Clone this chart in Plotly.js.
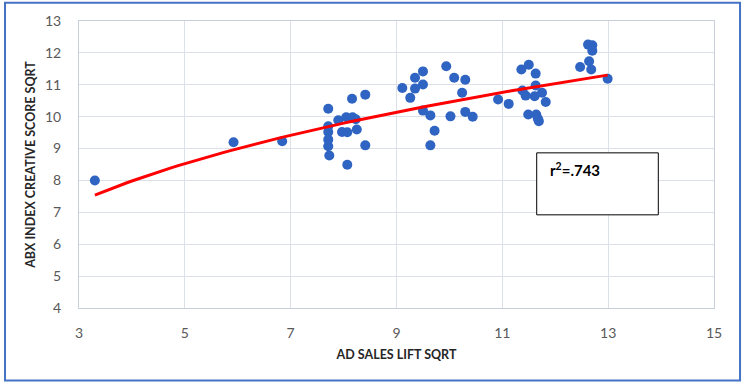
<!DOCTYPE html>
<html>
<head>
<meta charset="utf-8">
<script src="https://cdn.plot.ly/plotly-3.0.1.min.js"></script>
<style>
  html, body { margin: 0; padding: 0; background: #ffffff; }
  #chart { width: 745px; height: 386px; }
</style>
</head>
<body>
<div id="chart"></div>
<script>
// Data
const adSalesLiftSqrt = [
  3.30, 5.92, 6.84,
  7.71, 8.16, 8.41, 7.90, 8.05, 8.17, 8.23, 7.71, 7.71, 7.97, 8.07, 8.25, 7.71, 7.71, 8.41, 7.73, 8.07,
  9.11, 9.26, 9.35, 9.50, 9.35, 9.50, 9.50, 9.64, 9.72, 9.64,
  9.94, 10.09, 10.30, 10.24, 10.02, 10.30, 10.44,
  10.92, 11.12, 11.36, 11.50, 11.63, 11.63, 11.38, 11.44, 11.61, 11.75, 11.82, 11.49, 11.64, 11.69, 11.67,
  12.62, 12.70, 12.70, 12.47, 12.64, 12.68, 12.99
];
const abxCreativeScoreSqrt = [
  8.00, 9.20, 9.23,
  10.25, 10.56, 10.69, 9.89, 9.98, 9.98, 9.92, 9.70, 9.52, 9.52, 9.51, 9.60, 9.28, 9.07, 9.10, 8.78, 8.49,
  10.90, 10.59, 11.22, 11.42, 10.88, 11.01, 10.19, 10.04, 9.56, 9.10,
  11.58, 11.22, 11.16, 10.75, 10.01, 10.15, 10.00,
  10.54, 10.40, 11.48, 11.63, 11.35, 10.98, 10.82, 10.66, 10.64, 10.75, 10.46, 10.07, 10.07, 9.86, 9.94,
  12.26, 12.24, 12.07, 11.56, 11.74, 11.48, 11.19
];
const xTickVals = [3, 5, 7, 9, 11, 13, 15];
const yTickVals = [4, 5, 6, 7, 8, 9, 10, 11, 12, 13];
const xTitle = "AD SALES LIFT SQRT";
const yTitle = "ABX INDEX CREATIVE SCORE SQRT";
const rSquaredLabel = "r<sup>2</sup>=.743";

// Power trendline (least squares on ln y vs ln x), like a spreadsheet power trendline
function powerFit(xs, ys) {
  const n = xs.length;
  let sx = 0, sy = 0, sxx = 0, sxy = 0;
  for (let i = 0; i < n; i++) {
    const lx = Math.log(xs[i]), ly = Math.log(ys[i]);
    sx += lx; sy += ly; sxx += lx * lx; sxy += lx * ly;
  }
  const b = (n * sxy - sx * sy) / (n * sxx - sx * sx);
  const a = (sy - b * sx) / n;
  return { c: Math.exp(a), p: b };
}
const fit = powerFit(adSalesLiftSqrt, abxCreativeScoreSqrt);
const xMin = Math.min(...adSalesLiftSqrt), xMax = Math.max(...adSalesLiftSqrt);
const trendX = [], trendY = [];
for (let i = 0; i <= 80; i++) {
  const xv = xMin + (xMax - xMin) * i / 80;
  trendX.push(xv);
  trendY.push(fit.c * Math.pow(xv, fit.p));
}

const font = "Lato, 'Liberation Sans', sans-serif";

const traces = [
  {
    x: adSalesLiftSqrt, y: abxCreativeScoreSqrt,
    type: 'scatter', mode: 'markers',
    marker: { color: '#2F64C3', size: 10, line: { width: 0 } },
    hoverinfo: 'x+y', showlegend: false
  },
  {
    x: trendX, y: trendY,
    type: 'scatter', mode: 'lines',
    line: { color: '#FF0000', width: 3 },
    hoverinfo: 'skip', showlegend: false
  }
];

const layout = {
  width: 745, height: 386,
  margin: { l: 79, r: 31, t: 21, b: 78 },
  paper_bgcolor: '#ffffff', plot_bgcolor: '#ffffff',
  font: { family: font, color: '#595959', size: 14 },
  xaxis: {
    range: [3, 15], tickvals: xTickVals, ticktext: xTickVals.map(String),
    showgrid: true, gridcolor: '#DCE0E7', gridwidth: 1,
    showline: true, linecolor: '#C8CEDA', linewidth: 1, mirror: true,
    zeroline: false, ticks: '', ticklabelstandoff: 12,
    tickfont: { family: font, size: 14, color: '#595959' },
    title: { text: '<b>' + xTitle + '</b>', standoff: 10,
             font: { family: font, size: 12.5, color: '#262626' } }
  },
  yaxis: {
    range: [4, 13], tickvals: yTickVals, ticktext: yTickVals.map(String),
    showgrid: true, gridcolor: '#DCE0E7', gridwidth: 1,
    showline: true, linecolor: '#C8CEDA', linewidth: 1, mirror: true,
    zeroline: false, ticks: '', ticklabelstandoff: 14,
    tickfont: { family: font, size: 14, color: '#595959' },
    title: { text: '<b>' + yTitle + '</b>', standoff: 6,
             font: { family: font, size: 12.5, color: '#262626' } }
  },
  shapes: [
    { type: 'rect', xref: 'paper', yref: 'paper',
      x0: 0.7208, x1: 0.9123, y0: 0.3246, y1: 0.5406,
      line: { color: '#000000', width: 1 }, fillcolor: '#ffffff', layer: 'above' },
    { type: 'rect', xref: 'paper', yref: 'paper',
      x0: -0.1165, x1: 1.041, y0: -0.2525, y1: 1.064,
      line: { color: '#4472C4', width: 2 }, fillcolor: 'rgba(0,0,0,0)', layer: 'above' }
  ],
  annotations: [
    { xref: 'paper', yref: 'paper', x: 0.7386, y: 0.482,
      xanchor: 'left', yanchor: 'middle', showarrow: false,
      text: '<b>' + rSquaredLabel + '</b>',
      font: { family: font, size: 15, color: '#000000' } }
  ]
};

Plotly.newPlot('chart', traces, layout, { displayModeBar: false, staticPlot: true });
</script>
</body>
</html>
